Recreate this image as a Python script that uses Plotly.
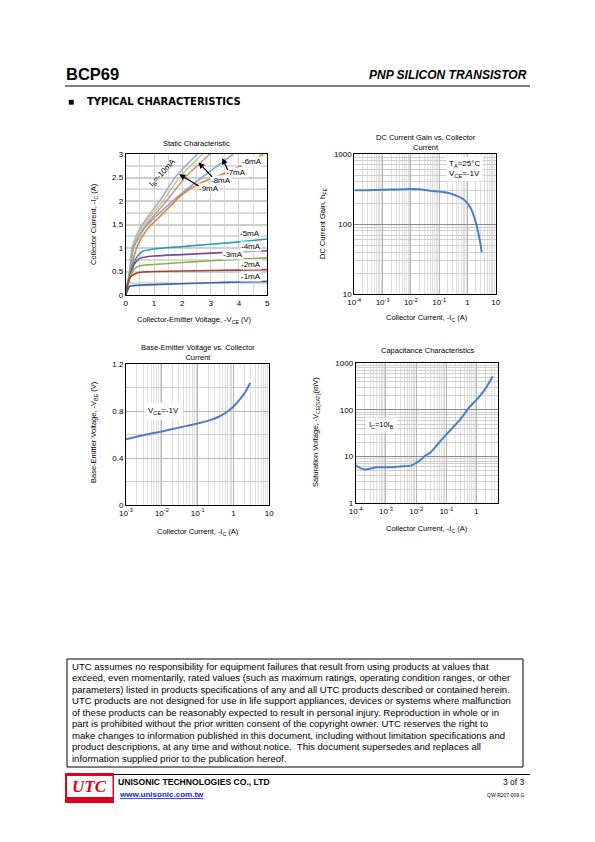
import plotly.graph_objects as go

# ---------------- data ----------------
# Static characteristic: -VCE (V) vs -IC (A) for IB steps
ib_labels = ["-1mA", "-2mA", "-3mA", "-4mA", "-5mA", "-6mA", "-7mA", "-8mA", "-9mA", "-10mA"]
vce_1 = [0, 0.08, 0.15, 0.3, 1, 2, 3, 4, 5]
ic_1 = [0, 0.12, 0.19, 0.2, 0.22, 0.24, 0.26, 0.275, 0.29]
vce_2 = [0, 0.1, 0.2, 0.4, 0.6, 1, 2, 3, 4, 5]
ic_2 = [0, 0.3, 0.4, 0.47, 0.49, 0.5, 0.51, 0.52, 0.53, 0.54]
vce_3 = [0, 0.15, 0.3, 0.5, 1, 2, 3, 4, 5]
ic_3 = [0, 0.38, 0.55, 0.62, 0.65, 0.69, 0.73, 0.76, 0.79]
vce_4 = [0, 0.15, 0.3, 0.5, 1, 2, 3, 4, 5]
ic_4 = [0, 0.4, 0.65, 0.78, 0.83, 0.86, 0.89, 0.92, 0.94]
vce_5 = [0, 0.15, 0.3, 0.45, 0.6, 1, 2, 3, 4, 5]
ic_5 = [0, 0.4, 0.7, 0.85, 0.93, 0.98, 1.03, 1.08, 1.13, 1.19]
vce_6 = [0, 0.15, 0.38, 0.5, 0.8, 1.33, 1.98, 2.63, 3.33, 4.04, 4.86]
ic_6 = [0, 0.45, 1.0, 1.15, 1.43, 1.74, 2.13, 2.38, 2.55, 2.74, 2.99]
vce_7 = [0, 0.15, 0.28, 0.68, 1.68, 2.69, 3.8]
ic_7 = [0, 0.5, 1.0, 1.43, 2.01, 2.5, 3.0]
vce_8 = [0, 0.15, 0.26, 0.65, 1.45, 2.1, 2.98]
ic_8 = [0, 0.52, 1.0, 1.43, 2.01, 2.5, 3.0]
vce_9 = [0, 0.15, 0.24, 0.56, 1.33, 1.9, 2.72]
ic_9 = [0, 0.54, 1.0, 1.43, 2.01, 2.5, 3.0]
vce_10 = [0, 0.15, 0.22, 0.51, 1.21, 1.74, 2.53]
ic_10 = [0, 0.56, 1.0, 1.43, 2.01, 2.5, 3.0]
static_colors = ["#3a63ad", "#b23b36", "#8cb24a", "#77499c", "#2aa0bb",
                 "#e67f2b", "#86a8dc", "#dc8a86", "#b3d38b", "#ada5d4"]

# DC current gain vs collector current
gain_ic = [1e-4, 3e-4, 1e-3, 3e-3, 1e-2, 2e-2, 5e-2, 0.1, 0.2, 0.4, 0.7, 1.0, 1.4, 1.8, 2.2, 2.6, 3.0, 3.2]
gain_hfe = [305, 305, 310, 312, 318, 315, 298, 292, 280, 255, 228, 200, 160, 120, 90, 65, 48, 40]

# Base-emitter voltage vs collector current
vbe_ic = [1e-3, 3e-3, 1e-2, 3e-2, 0.1, 0.2, 0.4, 0.7, 1.0, 1.5, 2.0, 2.5, 2.9]
vbe_v = [0.56, 0.595, 0.627, 0.66, 0.695, 0.72, 0.755, 0.80, 0.84, 0.90, 0.95, 1.0, 1.04]

# Saturation voltage vs collector current
sat_ic = [1e-4, 1.5e-4, 2e-4, 3e-4, 5e-4, 1e-3, 2e-3, 4e-3, 7e-3, 1e-2, 1.5e-2, 2e-2,
          3e-2, 5e-2, 0.1, 0.25, 0.6, 1.0, 1.7, 2.5, 3.4]
sat_mv = [6.5, 5.6, 5.3, 5.5, 5.9, 5.9, 6.0, 6.2, 6.5, 7.3, 8.8, 10.5, 12.3, 18, 30,
          56, 118, 165, 250, 370, 530]

# tick labels
static_x_ticks = [0, 1, 2, 3, 4, 5]
static_y_ticks = [0, 0.5, 1, 1.5, 2, 2.5, 3]
static_y_ticktext = ["0", "0.5", "1", "1.5", "2", "2.5", "3"]
gain_x_ticks = [1e-4, 1e-3, 1e-2, 1e-1, 1, 10]
gain_x_text = ["10<sup>-4</sup>", "10<sup>-3</sup>", "10<sup>-2</sup>", "10<sup>-1</sup>", "1", "10"]
gain_y_ticks = [10, 100, 1000]
vbe_x_ticks = [1e-3, 1e-2, 1e-1, 1, 10]
vbe_x_text = ["10<sup>-3</sup>", "10<sup>-2</sup>", "10<sup>-1</sup>", "1", "10"]
vbe_y_ticks = [0, 0.4, 0.8, 1.2]
sat_x_ticks = [1e-4, 1e-3, 1e-2, 1e-1, 1]
sat_x_text = ["10<sup>-4</sup>", "10<sup>-3</sup>", "10<sup>-2</sup>", "10<sup>-1</sup>", "1"]
sat_y_ticks = [1, 10, 100, 1000]

disclaimer_lines = [
    "UTC assumes no responsibility for equipment failures that result from using products at values that",
    "exceed, even momentarily, rated values (such as maximum ratings, operating condition ranges, or other",
    "parameters) listed in products specifications of any and all UTC products described or contained herein.",
    "UTC products are not designed for use in life support appliances, devices or systems where malfunction",
    "of these products can be reasonably expected to result in personal injury. Reproduction in whole or in",
    "part is prohibited without the prior written consent of the copyright owner. UTC reserves the right to",
    "make changes to information published in this document, including without limitation specifications and",
    "product descriptions, at any time and without notice.  This document supersedes and replaces all",
    "information supplied prior to the publication hereof.",
]

# ---------------- figure ----------------
W, H = 595, 842
FONT = "Liberation Sans, Arial, sans-serif"


def px(x):
    return x / W


def py(y):
    return 1 - y / H


def dom_x(a, b):
    return [a / W, b / W]


def dom_y(top, bottom):
    return [1 - bottom / H, 1 - top / H]


def log_minor(lo, hi):
    vals = []
    for e in range(lo, hi):
        for k in range(2, 10):
            vals.append(k * 10.0 ** e)
    return vals


fig = go.Figure()

vces = [vce_1, vce_2, vce_3, vce_4, vce_5, vce_6, vce_7, vce_8, vce_9, vce_10]
ics = [ic_1, ic_2, ic_3, ic_4, ic_5, ic_6, ic_7, ic_8, ic_9, ic_10]
for i in range(9, -1, -1):
    fig.add_trace(go.Scatter(x=vces[i], y=ics[i], mode="lines", name=ib_labels[i],
                             line=dict(color=static_colors[i], width=1.6, shape="spline", smoothing=0.6),
                             xaxis="x", yaxis="y", showlegend=False))

fig.add_trace(go.Scatter(x=gain_ic, y=gain_hfe, mode="lines", line=dict(color="#4a7fc6", width=2, shape="spline", smoothing=0.5),
                         xaxis="x2", yaxis="y2", showlegend=False))
fig.add_trace(go.Scatter(x=vbe_ic, y=vbe_v, mode="lines", line=dict(color="#4a7fc6", width=2, shape="spline", smoothing=0.5),
                         xaxis="x3", yaxis="y3", showlegend=False))
fig.add_trace(go.Scatter(x=sat_ic, y=sat_mv, mode="lines", line=dict(color="#4a7fc6", width=2, shape="spline", smoothing=0.5),
                         xaxis="x4", yaxis="y4", showlegend=False))

tickfont = dict(family=FONT, size=8, color="black")
axis_common = dict(showline=True, linecolor="black", linewidth=1, mirror=True, ticks="",
                   tickfont=tickfont, zeroline=False, fixedrange=True)
MAJ = "#b4b4b4"
MIN = "#dedede"

fig.update_layout(
    width=W, height=H, margin=dict(l=0, r=0, t=0, b=0, autoexpand=False),
    paper_bgcolor="white", plot_bgcolor="white", showlegend=False,
    font=dict(family=FONT, color="black"),
    xaxis=dict(domain=dom_x(125.7, 267.3), anchor="y", range=[0, 5], tickmode="array",
               tickvals=static_x_ticks, showgrid=True, gridcolor="#cfcfcf", gridwidth=1,
               minor=dict(tickmode="linear", tick0=0, dtick=0.5, showgrid=True, gridcolor="#dadada", gridwidth=1),
               **axis_common),
    yaxis=dict(domain=dom_y(154, 295), anchor="x", range=[0, 3], tickmode="array",
               tickvals=static_y_ticks, ticktext=static_y_ticktext, showgrid=True, gridcolor="#cfcfcf", gridwidth=1.5,
               minor=dict(tickmode="linear", tick0=0, dtick=0.25, showgrid=True, gridcolor="#dadada", gridwidth=1.5),
               **axis_common),
    xaxis2=dict(domain=dom_x(354.3, 495.7), anchor="y2", type="log", range=[-4, 1], tickmode="array",
                tickvals=gain_x_ticks, ticktext=gain_x_text, showgrid=True, gridcolor=MAJ,
                minor=dict(tickmode="array", tickvals=log_minor(-4, 1), showgrid=True, gridcolor=MIN),
                **axis_common),
    yaxis2=dict(domain=dom_y(154, 294.3), anchor="x2", type="log", range=[1, 3], tickmode="array",
                tickvals=gain_y_ticks, showgrid=True, gridcolor="#8a8a8a",
                minor=dict(tickmode="array", tickvals=log_minor(1, 3), showgrid=True, gridcolor="#cfcfcf", gridwidth=1.3),
                **axis_common),
    xaxis3=dict(domain=dom_x(126, 269.3), anchor="y3", type="log", range=[-3, 1], tickmode="array",
                tickvals=vbe_x_ticks, ticktext=vbe_x_text, showgrid=True, gridcolor=MAJ,
                minor=dict(tickmode="array", tickvals=log_minor(-3, 1), showgrid=True, gridcolor=MIN),
                **axis_common),
    yaxis3=dict(domain=dom_y(364.3, 505), anchor="x3", range=[0, 1.2], tickmode="array",
                tickvals=vbe_y_ticks, showgrid=True, gridcolor="#b8b8b8", gridwidth=1.2,
                minor=dict(tickmode="linear", tick0=0, dtick=0.2, showgrid=True, gridcolor="#cdcdcd", gridwidth=1.2),
                **axis_common),
    xaxis4=dict(domain=dom_x(355.7, 497.7), anchor="y4", type="log", range=[-4, 0.699], tickmode="array",
                tickvals=sat_x_ticks, ticktext=sat_x_text, showgrid=True, gridcolor=MAJ,
                minor=dict(tickmode="array", tickvals=log_minor(-4, 1), showgrid=True, gridcolor=MIN),
                **axis_common),
    yaxis4=dict(domain=dom_y(363.3, 503.3), anchor="x4", type="log", range=[0, 3], tickmode="array",
                tickvals=sat_y_ticks, showgrid=True, gridcolor="#8a8a8a",
                minor=dict(tickmode="array", tickvals=log_minor(0, 3), showgrid=True, gridcolor="#cfcfcf", gridwidth=1.3),
                **axis_common),
)

ann = []


def txt(x, y, text, size=8, xanchor="center", yanchor="middle", **kw):
    d = dict(x=px(x), y=py(y), xref="paper", yref="paper", text=text, showarrow=False,
             xanchor=xanchor, yanchor=yanchor, font=dict(family=kw.pop("family", FONT), size=size,
                                                           color=kw.pop("color", "black")))
    d.update(kw)
    ann.append(d)


# header
txt(64, 74, "<b>BCP69</b>", size=16.5, xanchor="left", family="Liberation Sans Narrow, Arial Narrow, Liberation Sans")
txt(529, 75, "<b><i>PNP SILICON TRANSISTOR</i></b>", size=12, xanchor="right")
txt(65.5, 102, "■", size=10, xanchor="left")
txt(85, 102, "<b>TYPICAL CHARACTERISTICS</b>", size=10, xanchor="left", family="DejaVu Sans")

# chart titles
txt(196, 143, "Static Characteristic", size=7.5)
txt(426, 142, "DC Current Gain vs. Collector<br>Current", size=7.5)
txt(198, 353, "Base-Emitter Voltage vs. Collector<br>Current", size=7.5)
txt(428, 351, "Capacitance Characteristics", size=7.5)

# axis titles
txt(194, 320, "Collector-Emitter Voltage, -V<sub>CE</sub> (V)", size=7.5)
txt(94, 224, "Collector Current, -I<sub>C</sub> (A)", size=7.5, textangle=-90)
txt(427, 318, "Collector Current, -I<sub>C</sub> (A)", size=7.5)
txt(323, 224, "DC Current Gain, h<sub>FE</sub>", size=7.5, textangle=-90)
txt(198, 532, "Collector Current, -I<sub>C</sub> (A)", size=7.5)
txt(94, 432, "Base-Emitter Voltage, -V<sub>BE</sub> (V)", size=7.5, textangle=-90)
txt(427, 529, "Collector Current, -I<sub>C</sub> (A)", size=7.5)
txt(316, 432, "Saturation Voltage, -V<sub>CE(SAT)</sub>(mV)", size=7.5, textangle=-90)

# in-chart labels (static)
lab_pos = {"-6mA": (4.45, 2.83), "-7mA": (3.88, 2.6), "-8mA": (3.38, 2.43), "-9mA": (2.95, 2.26),
           "-5mA": (4.4, 1.3), "-4mA": (4.42, 1.04), "-3mA": (3.8, 0.87), "-2mA": (4.42, 0.64),
           "-1mA": (4.42, 0.39)}
for k, (x, y) in lab_pos.items():
    ann.append(dict(x=x, y=y, xref="x", yref="y", text=k, showarrow=False, bgcolor="white",
                    borderpad=0, font=dict(family=FONT, size=8, color="black")))
ann.append(dict(x=1.3, y=2.6, xref="x", yref="y", text="I<sub>B</sub>=-10mA", showarrow=False,
                textangle=-47, font=dict(family=FONT, size=8, color="black")))
for (hx, hy, tx, ty) in [(1.89, 2.57, 2.63, 2.3), (2.57, 2.82, 3.1, 2.48), (3.41, 2.91, 3.63, 2.63)]:
    ann.append(dict(x=hx, y=hy, ax=tx, ay=ty, xref="x", yref="y", axref="x", ayref="y", text="",
                    showarrow=True, arrowhead=2, arrowsize=1, arrowwidth=1.2, arrowcolor="black"))

# condition boxes
txt(446, 169, "T<sub>A</sub>=25°C<br>V<sub>CE</sub>=-1V", size=8, xanchor="left", align="left",
    bgcolor="white", borderpad=2)
txt(144, 411, "V<sub>CE</sub>=-1V", size=8, xanchor="left", bgcolor="white", borderpad=3)
txt(366, 425, "I<sub>C</sub>=10I<sub>B</sub>", size=7.5, xanchor="left", bgcolor="white", borderpad=2)

# disclaimer
for i, line in enumerate(disclaimer_lines):
    txt(70, 666 + i * 11.55, line, size=9.55, xanchor="left")

# footer
txt(116, 782, "<b>UNISONIC TECHNOLOGIES CO., LTD</b>", size=8.6, xanchor="left")
txt(117, 794, "<b><u>www.unisonic.com.tw</u></b>", size=8, xanchor="left", color="#1a1aee")
txt(527, 782, "3 of 3", size=8.5, xanchor="right")
txt(527, 795, "QW-R207-009.G", size=5, xanchor="right")
txt(89.5, 786.5, "<b><i>UTC</i></b>", size=17, color="#e2001a", family="Liberation Serif, Times New Roman, serif")

fig.update_layout(annotations=ann)

shapes = [
    dict(type="line", xref="paper", yref="paper", x0=px(65), x1=px(530), y0=py(86), y1=py(86),
         line=dict(color="black", width=1)),
    dict(type="rect", xref="paper", yref="paper", x0=px(67), x1=px(523), y0=py(659), y1=py(767),
         line=dict(color="black", width=1)),
    dict(type="line", xref="paper", yref="paper", x0=px(113), x1=px(530), y0=py(774.5), y1=py(774.5),
         line=dict(color="black", width=1)),
    dict(type="rect", xref="paper", yref="paper", x0=px(65), x1=px(114), y0=py(803), y1=py(773),
         fillcolor="#e2001a", line=dict(width=0), layer="above"),
    dict(type="rect", xref="paper", yref="paper", x0=px(67), x1=px(112.5), y0=py(797), y1=py(776),
         fillcolor="white", line=dict(width=0), layer="above"),
]
fig.update_layout(shapes=shapes)

fig.write_html("out.html", config={"displayModeBar": False},
               post_script="document.body.style.margin='0';document.body.style.padding='0';"
                           "document.documentElement.style.overflow='hidden';")
